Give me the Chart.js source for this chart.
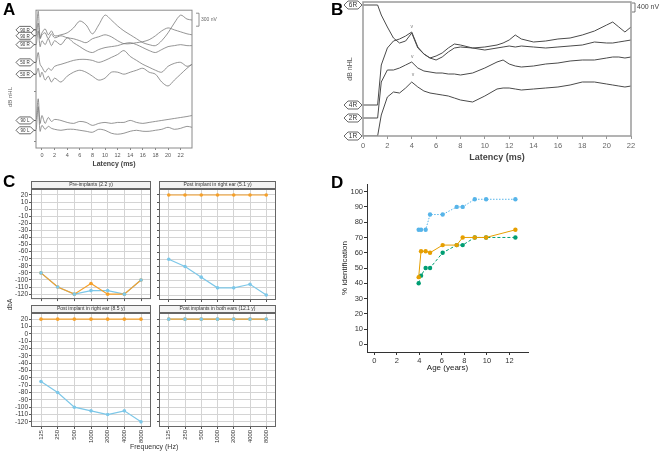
<!DOCTYPE html>
<html>
<head>
<meta charset="utf-8">
<script src="https://cdn.jsdelivr.net/npm/chart.js@4.4.0/dist/chart.umd.min.js"></script>
<style>
  body { margin: 0; background: #fff; width: 660px; height: 451px; position: relative; overflow: hidden;
         font-family: "Liberation Sans", Arial, sans-serif; }
  canvas { position: absolute; }
  .letter { position: absolute; font-weight: bold; font-size: 17px; color: #000; line-height: 17px; }
  .txt { position: absolute; white-space: nowrap; color: #333; }
</style>
</head>
<body>
<canvas id="chartA" width="225" height="172" style="left:0;top:0"></canvas>
<canvas id="chartB" width="330" height="167" style="left:330px;top:0"></canvas>
<canvas id="chartC1" width="155" height="126" style="left:0;top:178px"></canvas>
<canvas id="chartC2" width="125" height="126" style="left:155px;top:178px"></canvas>
<canvas id="chartC3" width="155" height="149" style="left:0;top:302px"></canvas>
<canvas id="chartC4" width="125" height="149" style="left:155px;top:302px"></canvas>
<canvas id="chartD" width="220" height="202" style="left:330px;top:175px"></canvas>

<div class="letter" style="left:3px;top:1px">A</div>
<div class="letter" style="left:331px;top:1px">B</div>
<div class="letter" style="left:3px;top:173px">C</div>
<div class="letter" style="left:331px;top:174px">D</div>
<div class="txt" style="left:0px;top:94px;font-size:6px;color:#666;transform:rotate(-90deg)">dB nHL</div>
<div class="txt" style="left:4px;top:301px;font-size:6.5px;transform:rotate(-90deg)">dbA</div>
<div class="txt" style="left:130px;top:443px;font-size:7px">Frequency (Hz)</div>

<script>
Chart.defaults.font.family = '"Liberation Sans", Arial, sans-serif';
Chart.defaults.animation = false;
Chart.defaults.plugins.legend.display = false;
Chart.defaults.plugins.tooltip.enabled = false;

// ---------- panel A: latency (ms) and trace level ----------
const latencyA = [-0.9, -0.6, -0.3, 0, 0.5, 1, 1.5, 2, 3, 4, 5, 6, 7, 8, 9, 10, 11, 12, 13, 14, 15, 16, 17, 18, 19, 20, 21, 22, 23, 23.8];
const traceA1 = [30, 8, 35, 30, 26, 32, 28, 33, 32, 30, 25, 18, 22, 31, 22, 12, 17, 23, 28, 32, 36, 40, 42, 43, 38, 30, 20, 12, 16, 17];
const traceA2 = [33, 20, 36, 32, 30, 36, 31, 35, 33, 35, 36, 38, 40, 36, 34, 32, 34, 38, 41, 41, 40, 39, 37, 33, 28, 25, 27, 29, 31, 32];
const traceA3 = [42, 28, 44, 38, 42, 36, 43, 38, 42, 35, 40, 44, 48, 50, 47, 45, 44, 43, 41, 40, 42, 45, 48, 50, 47, 44, 43, 42, 43, 43];
const traceA4 = [60, 50, 62, 65, 70, 66, 68, 64, 62, 60, 58, 57, 57, 58, 60, 58, 55, 52, 48, 54, 58, 62, 65, 68, 70, 64, 61, 60, 64, 62];
const traceA5 = [72, 66, 75, 70, 78, 74, 80, 76, 80, 74, 70, 68, 70, 74, 78, 76, 70, 70, 72, 70, 68, 66, 70, 72, 80, 84, 78, 72, 66, 62];
const traceA6 = [118, 97, 122, 114, 122, 116, 120, 118, 119, 121, 122, 120, 121, 124, 122, 121, 122, 121, 121, 119, 121, 122, 121, 120, 119, 118, 117, 116, 115, 114];
const traceA7 = [128, 105, 130, 124, 128, 125, 127, 128, 129, 128, 128, 129, 130, 131, 128, 129, 132, 133, 132, 130, 129, 130, 130, 129, 128, 126, 128, 127, 125, 126];
const tagTextA = ['90 R', '90 R', '90 R', '50 R', '50 R', '90 L', '90 L'];
const tagLevelA = [27, 33, 42, 60, 72, 119, 129];
const axisTicksA = [27, 33, 42, 60, 72, 90, 119, 129, 140];
const latencyTicksA = [0, 2, 4, 6, 8, 10, 12, 14, 16, 18, 20, 22];

// ---------- panel B ----------
const latencyB = [0, 1.2, 1.5, 2, 2.5, 3, 3.5, 4, 4.5, 5, 5.5, 6, 6.5, 7, 7.5, 8, 9, 10, 11, 11.5, 12, 12.5, 13, 14, 15, 16, 17, 18, 19, 20, 20.5, 21, 21.5, 22];
const trace6R = [5, 5, 15, 27, 38, 43, 41, 33, 48, 54, 58, 56, 53, 48, 44, 45, 48, 47, 45, 43, 40, 35, 39, 42, 41, 39, 38, 35, 31, 25, 22, 27, 32, 27];
const trace4R = [105, 105, 65, 48, 41, 39, 36, 32, 47, 54, 58, 60, 57, 52, 48, 47, 48, 50, 48, 47, 46, 47, 46, 47, 48, 47, 46, 45, 42, 43, 43, 42, 41, 40];
const trace2R = [118, 118, 82, 70, 70, 68, 65, 62, 68, 71, 72, 73, 73, 74, 74, 75, 73, 68, 62, 60, 64, 66, 67, 66, 64, 63, 61, 60, 60, 58, 57, 57, 58, 57];
const trace1R = [136, 136, 115, 97, 92, 93, 88, 82, 87, 91, 93, 94, 95, 96, 98, 100, 102, 96, 89, 88, 88, 89, 90, 89, 88, 87, 85, 82, 82, 84, 85, 86, 87, 86];
const tagTextB = ['6R', '4R', '2R', '1R'];
const tagLevelB = [5, 105, 118, 136];
const peakMarkX = [4, 4.05, 4.1];
const peakMarkY = [27, 57, 75];
const latencyTicksB = [0, 2, 4, 6, 8, 10, 12, 14, 16, 18, 20, 22];

// ---------- panel C ----------
const freqLabels = ['125', '250', '500', '1000', '2000', '4000', '8000'];
const dbaTicks = [20, 10, 0, -10, -20, -30, -40, -50, -60, -70, -80, -90, -100, -110, -120];
const preBlue = [-90, -110, -120, -115, -115, -120, -100];
const preOrange = [-90, -110, -120, -105, -120, -120, -100];
const post51Blue = [-70, -80, -95, -110, -110, -105, -120];
const post51Orange = [20, 20, 20, 20, 20, 20, 20];
const post85Blue = [-65, -80, -100, -105, -110, -105, -120];
const post85Orange = [20, 20, 20, 20, 20, 20, 20];
const post121Blue = [20, 20, 20, 20, 20, 20, 20];
const post121Orange = [20, 20, 20, 20, 20, 20, 20];

// ---------- panel D ----------
const ageD = [3.94, 4.15, 4.56, 4.95, 6.07, 7.32, 7.85, 8.92, 9.93, 12.53];
const blueD = [75, 75, 75, 85, 85, 90, 90, 95, 95, 95];
const orangeD = [44, 61, 61, 60, 65, 65, 70, 70, 70, 75];
const greenD = [40, 45, 50, 50, 60, 65, 65, 70, 70, 70];
const ageTicks = [0, 2, 4, 6, 8, 10, 12];
const pctTicks = [0, 10, 20, 30, 40, 50, 60, 70, 80, 90, 100];

const xy = (xs, ys) => xs.map((x, i) => ({ x: x, y: ys[i] }));
const fixTicks = list => scale => { scale.ticks = list.map(v => ({ value: v })); };

function drawTag(ctx, xRight, y, w, h, text, fontSize) {
    const xl = xRight - w;
    ctx.beginPath();
    ctx.moveTo(xl, y);
    ctx.lineTo(xl + h / 2, y - h / 2);
    ctx.lineTo(xRight - h / 2, y - h / 2);
    ctx.lineTo(xRight, y);
    ctx.lineTo(xRight - h / 2, y + h / 2);
    ctx.lineTo(xl + h / 2, y + h / 2);
    ctx.closePath();
    ctx.fillStyle = '#fff';
    ctx.fill();
    ctx.strokeStyle = '#444';
    ctx.lineWidth = 0.8;
    ctx.stroke();
    ctx.fillStyle = '#333';
    ctx.font = fontSize + 'px "Liberation Sans", Arial, sans-serif';
    ctx.textAlign = 'center';
    ctx.textBaseline = 'middle';
    ctx.fillText(text, xl + w / 2, y + 0.5);
}

// ===== A =====
const traceColorA = '#7a7a7a';
const tracesA = [traceA1, traceA2, traceA3, traceA4, traceA5, traceA6, traceA7];

new Chart(document.getElementById('chartA'), {
    type: 'scatter',
    data: {
        datasets: tracesA.map(t => ({
            data: xy(latencyA, t),
            showLine: true,
            borderColor: traceColorA,
            borderWidth: 0.8,
            pointRadius: 0,
            tension: 0.3
        }))
    },
    options: {
        responsive: false,
        layout: { padding: { left: 0, right: 33, top: 7, bottom: 0 } },
        scales: {
            x: {
                type: 'linear', min: -0.95, max: 23.8,
                afterBuildTicks: fixTicks(latencyTicksA),
                afterFit: s => { s.height = 24; },
                grid: { drawOnChartArea: false, tickLength: 2, tickColor: '#888' },
                border: { display: false },
                ticks: { color: '#555', font: { size: 5.5 }, padding: 2, autoSkip: false },
                title: { display: true, text: 'Latency (ms)', color: '#444', font: { size: 7, weight: 'bold' } }
            },
            y: {
                reverse: true, min: 7, max: 147,
                afterBuildTicks: fixTicks(axisTicksA),
                afterFit: s => { s.width = 36; },
                grid: { drawOnChartArea: false, tickLength: 2, tickColor: '#888' },
                border: { display: false },
                ticks: { callback: () => '', autoSkip: false }
            }
        }
    },
    plugins: [{
        id: 'frameA',
        afterDatasetsDraw(chart) {
            const { ctx, chartArea: a, scales: { y } } = chart;
            ctx.save();
            ctx.strokeStyle = '#8a8a8a';
            ctx.lineWidth = 1;
            ctx.strokeRect(a.left, a.top, a.right - a.left, a.bottom - a.top);
            tagTextA.forEach((t, i) => {
                const py = y.getPixelForValue(tagLevelA[i]);
                ctx.strokeStyle = '#666';
                ctx.beginPath(); ctx.moveTo(a.left - 2, py); ctx.lineTo(a.left, py); ctx.stroke();
                drawTag(ctx, a.left - 2, py, 18, 7, t, 4.5);
            });
            // 300 nV bracket
            const bx = a.right + 7;
            ctx.strokeStyle = '#777';
            ctx.lineWidth = 0.8;
            ctx.beginPath();
            ctx.moveTo(bx - 3, a.top + 3); ctx.lineTo(bx, a.top + 3);
            ctx.lineTo(bx, a.top + 16); ctx.lineTo(bx - 3, a.top + 16);
            ctx.stroke();
            ctx.fillStyle = '#666';
            ctx.font = '5px "Liberation Sans", Arial, sans-serif';
            ctx.textAlign = 'left';
            ctx.textBaseline = 'middle';
            ctx.fillText('300 nV', bx + 2, a.top + 9);
            ctx.restore();
        }
    }]
});

// ===== B =====
const tracesB = [trace6R, trace4R, trace2R, trace1R];

new Chart(document.getElementById('chartB'), {
    type: 'scatter',
    data: {
        datasets: tracesB.map(t => ({
            data: xy(latencyB, t),
            showLine: true,
            borderColor: '#4a4a4a',
            borderWidth: 1,
            pointRadius: 0,
            tension: 0
        }))
    },
    options: {
        responsive: false,
        layout: { padding: { left: 12, right: 29, top: 2, bottom: 0 } },
        scales: {
            x: {
                type: 'linear', min: 0, max: 22,
                afterBuildTicks: fixTicks(latencyTicksB),
                afterFit: s => { s.height = 31; },
                grid: { drawOnChartArea: false, tickLength: 3, tickColor: '#999' },
                border: { display: false },
                ticks: { color: '#666', font: { size: 7.5 }, padding: 2, autoSkip: false },
                title: { display: true, text: 'Latency (ms)', color: '#444', font: { size: 9, weight: 'bold' } }
            },
            y: {
                reverse: true, min: 2, max: 136,
                afterFit: s => { s.width = 21; },
                grid: { display: false },
                border: { display: false },
                ticks: { display: false },
                title: { display: true, text: 'dB nHL', color: '#555', font: { size: 7 } }
            }
        }
    },
    plugins: [{
        id: 'frameB',
        afterDatasetsDraw(chart) {
            const { ctx, chartArea: a, scales: { x, y } } = chart;
            ctx.save();
            ctx.strokeStyle = '#9a9a9a';
            ctx.lineWidth = 1.5;
            ctx.strokeRect(a.left, a.top, a.right - a.left, a.bottom - a.top);
            tagTextB.forEach((t, i) => drawTag(ctx, a.left - 1, y.getPixelForValue(tagLevelB[i]), 18, 8, t, 6.5));
            ctx.fillStyle = '#777';
            ctx.font = '5px "Liberation Sans", Arial, sans-serif';
            ctx.textAlign = 'center';
            ctx.textBaseline = 'middle';
            peakMarkX.forEach((v, i) => ctx.fillText('v', x.getPixelForValue(v), y.getPixelForValue(peakMarkY[i])));
            // 400 nV bracket
            const bx = a.right + 4;
            ctx.strokeStyle = '#555';
            ctx.lineWidth = 0.8;
            ctx.beginPath();
            ctx.moveTo(bx - 3, a.top + 1); ctx.lineTo(bx, a.top + 1);
            ctx.lineTo(bx, a.top + 10); ctx.lineTo(bx - 3, a.top + 10);
            ctx.stroke();
            ctx.fillStyle = '#444';
            ctx.font = '7px "Liberation Sans", Arial, sans-serif';
            ctx.textAlign = 'left';
            ctx.fillText('400 nV', bx + 2, a.top + 5);
            ctx.restore();
        }
    }]
});

// ===== C =====
const orangeC = '#F5A02A';
const blueC = '#7CC7E8';

function facet(id, title, blue, orange, showY, showX) {
    new Chart(document.getElementById(id), {
        type: 'scatter',
        data: {
            datasets: [
                { data: xy([0, 1, 2, 3, 4, 5, 6], blue), showLine: false, pointRadius: 1.8, pointBorderWidth: 0, backgroundColor: blueC },
                { data: xy([0, 1, 2, 3, 4, 5, 6], orange), showLine: true, borderColor: orangeC, borderWidth: 1.2, pointRadius: 1.8, pointBorderWidth: 0, backgroundColor: orangeC },
                { data: xy([0, 1, 2, 3, 4, 5, 6], blue), showLine: true, borderColor: blueC, borderWidth: 1.2, pointRadius: 0 }
            ]
        },
        options: {
            responsive: false,
            layout: { padding: { left: 0, right: 2, top: 12, bottom: 0 } },
            scales: {
                x: {
                    type: 'linear', min: -0.6, max: 6.6,
                    afterBuildTicks: fixTicks([0, 1, 2, 3, 4, 5, 6]),
                    afterFit: s => { s.height = showX ? 24 : 2; },
                    grid: { color: '#d4d4d4', tickLength: 2, tickColor: '#555' },
                    border: { display: false },
                    ticks: {
                        display: showX, autoSkip: false, minRotation: 90, maxRotation: 90,
                        color: '#333', font: { size: 5.8 }, padding: 1,
                        callback: v => freqLabels[v]
                    }
                },
                y: {
                    min: -127, max: 27,
                    afterBuildTicks: fixTicks(dbaTicks),
                    afterFit: s => { s.width = showY ? 31 : 2; },
                    grid: { color: '#d4d4d4', tickLength: 2, tickColor: '#555' },
                    border: { display: false },
                    ticks: { display: showY, autoSkip: false, color: '#333', font: { size: 6.5 }, padding: 1 }
                }
            }
        },
        plugins: [{
            id: 'strip',
            afterDatasetsDraw(chart) {
                const { ctx, chartArea: a } = chart;
                ctx.save();
                ctx.fillStyle = '#f3f3f3';
                ctx.fillRect(a.left, a.top - 9, a.right - a.left, 9);
                ctx.fillStyle = '#666';
                ctx.fillRect(a.left, a.top - 2, a.right - a.left, 2);
                ctx.strokeStyle = '#666';
                ctx.lineWidth = 1;
                ctx.strokeRect(a.left + 0.5, a.top - 9 + 0.5, a.right - a.left - 1, a.bottom - a.top + 9 - 1);
                ctx.fillStyle = '#333';
                ctx.font = '5px "Liberation Sans", Arial, sans-serif';
                ctx.textAlign = 'center';
                ctx.textBaseline = 'middle';
                ctx.fillText(title, (a.left + a.right) / 2, a.top - 5);
                ctx.restore();
            }
        }]
    });
}

facet('chartC1', 'Pre-implants (2.2 y)', preBlue, preOrange, true, false);
facet('chartC2', 'Post implant in right ear (5.1 y)', post51Blue, post51Orange, false, false);
facet('chartC3', 'Post implant in right ear (8.5 y)', post85Blue, post85Orange, true, true);
facet('chartC4', 'Post implants in both ears (12.1 y)', post121Blue, post121Orange, false, true);

// ===== D =====
new Chart(document.getElementById('chartD'), {
    type: 'scatter',
    data: {
        datasets: [
            { data: xy(ageD, orangeD), showLine: true, borderColor: '#E69F00', backgroundColor: '#E69F00', borderWidth: 1, pointRadius: 2.2, pointBorderWidth: 0 },
            { data: xy(ageD, greenD), showLine: true, borderColor: '#009E73', backgroundColor: '#009E73', borderWidth: 1, borderDash: [3, 2], pointRadius: 2.2, pointBorderWidth: 0 },
            { data: xy(ageD, blueD), showLine: true, borderColor: '#56B4E9', backgroundColor: '#56B4E9', borderWidth: 1, borderDash: [1.5, 1.5], pointRadius: 2.2, pointBorderWidth: 0 }
        ]
    },
    options: {
        responsive: false,
        layout: { padding: { left: 6, right: 22, top: 9, bottom: 0 } },
        scales: {
            x: {
                type: 'linear', min: -0.65, max: 13.65,
                afterBuildTicks: fixTicks(ageTicks),
                afterFit: s => { s.height = 25; },
                grid: { drawOnChartArea: false, tickLength: 3, tickColor: '#333' },
                border: { color: '#333', width: 1 },
                ticks: { color: '#333', font: { size: 7.5 }, padding: 1, autoSkip: false },
                title: { display: true, text: 'Age (years)', color: '#222', font: { size: 8 } }
            },
            y: {
                min: -5, max: 105,
                afterBuildTicks: fixTicks(pctTicks),
                afterFit: s => { s.width = 31; },
                grid: { drawOnChartArea: false, tickLength: 3, tickColor: '#333' },
                border: { color: '#333', width: 1 },
                ticks: { color: '#333', font: { size: 7.5 }, padding: 1, autoSkip: false },
                title: { display: true, text: '% identification', color: '#222', font: { size: 8 } }
            }
        }
    }
});
</script>
</body>
</html>
